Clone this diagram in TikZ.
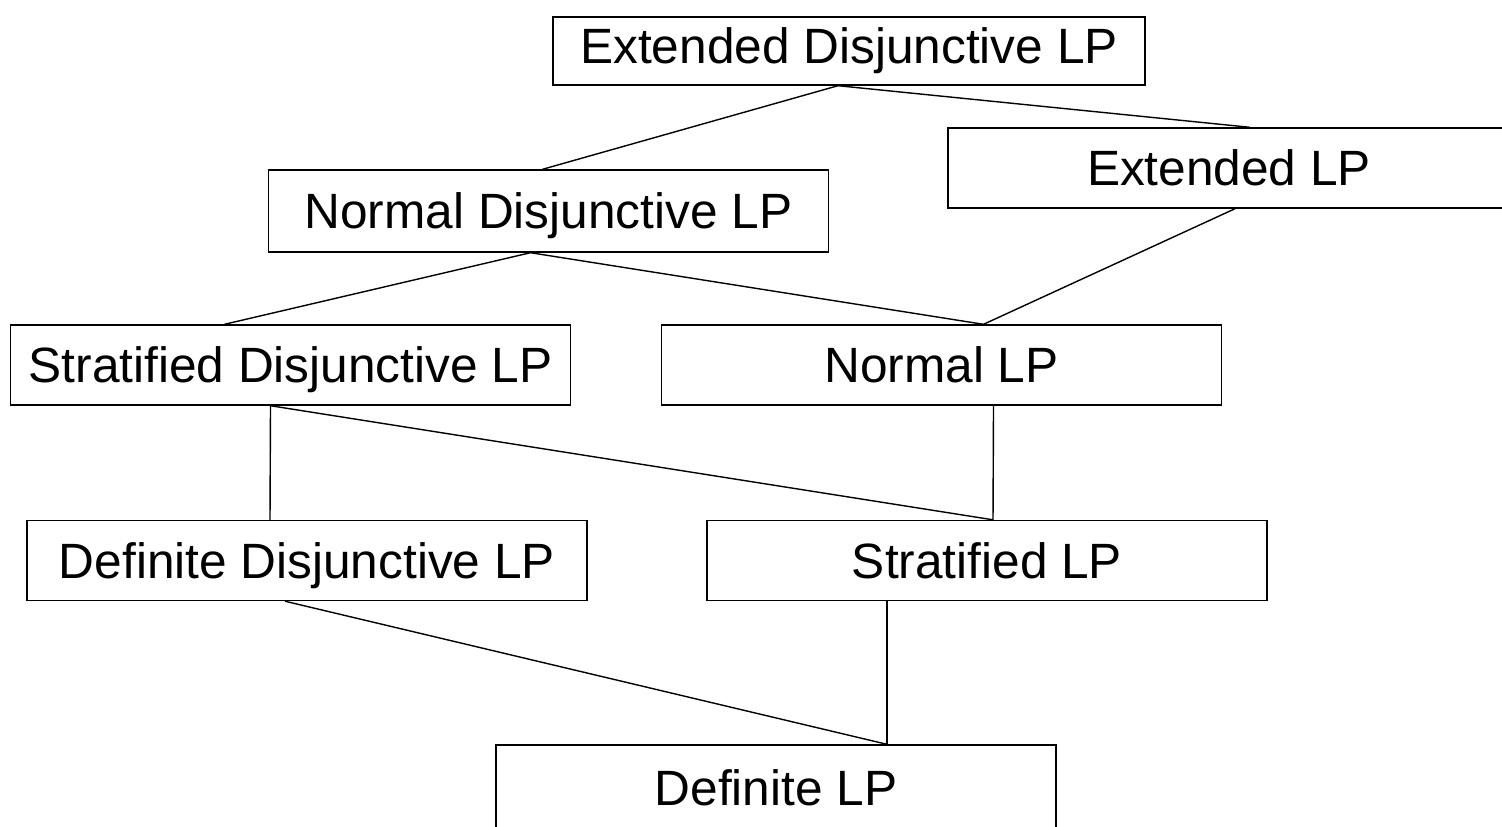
\documentclass[tikz,border=0pt]{standalone}
\usepackage{fontspec}
\setmainfont{Liberation Sans}
\begin{document}
\begin{tikzpicture}[x=0.5pt, y=-0.5pt, line width=0.7pt]
        \tikzstyle{lpbox}=[draw, rectangle, inner sep=0pt,
            minimum width=280pt, minimum height=40pt, text depth=0pt,
            font=\fontsize{24.8}{30}\selectfont]
        \useasboundingbox (0,0) rectangle (1502,826);
        \clip (0,0) rectangle (1502,826);
        \node[lpbox, minimum width=296pt, minimum height=34pt, text depth=5.2pt] (edlp) at (849, 51) {Extended Disjunctive LP};
        \node[lpbox, minimum width=281pt] (elp) at (1229, 168) {Extended LP};
        \node[lpbox, minimum height=41pt] (ndlp) at (548.5, 211) {Normal Disjunctive LP};
        \node[lpbox] (sdlp) at (290.5, 365) {Stratified Disjunctive LP};
        \node[lpbox] (nlp) at (941.5, 365) {Normal LP};
        \node[lpbox] (ddlp) at (307, 560.5) {Definite Disjunctive LP};
        \node[lpbox] (slp) at (987, 560.5) {Stratified LP};
        \node[lpbox, minimum height=43pt] (dlp) at (776, 788) {Definite LP};

        \draw ([xshift=-5.5pt]edlp.south) to ([xshift=-3pt]ndlp.north);
        \draw ([xshift=-5.5pt]edlp.south) to ([xshift=10.5pt]elp.north);
        \draw ([xshift=-9pt]ndlp.south) to ([xshift=-33pt]sdlp.north);
        \draw ([xshift=-9pt]ndlp.south) to ([xshift=21pt]nlp.north);
        \draw ([xshift=3pt]elp.south) to ([xshift=21pt]nlp.north);
        \draw ([xshift=-10pt]sdlp.south) to ([xshift=-18.5pt]ddlp.north);
        \draw ([xshift=-10pt]sdlp.south) to ([xshift=3pt]slp.north);
        \draw ([xshift=26pt]nlp.south) to ([xshift=3pt]slp.north);
        \draw ([xshift=-11pt]ddlp.south) to ([xshift=55.5pt]dlp.north);
        \draw ([xshift=-50pt]slp.south) to ([xshift=55.5pt]dlp.north);

    \end{tikzpicture}
\end{document}
